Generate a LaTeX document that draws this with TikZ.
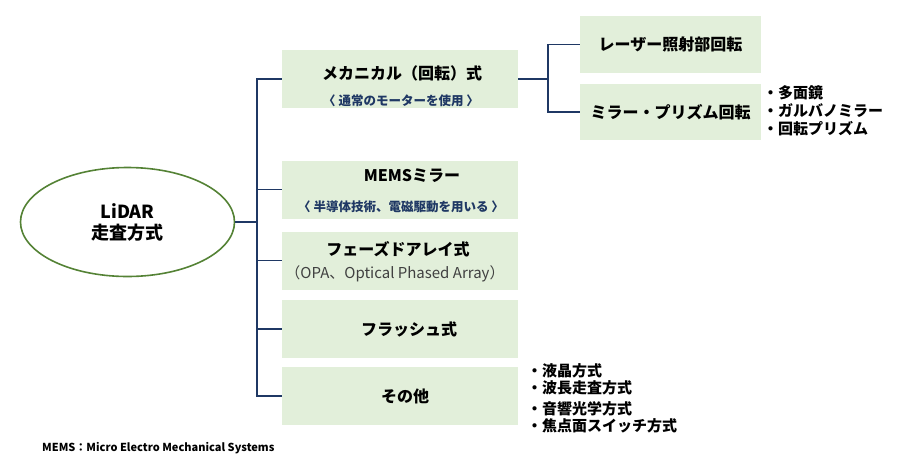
\documentclass[tikz,border=0pt]{standalone}
\usepackage{fontspec}
\setmainfont{Noto Sans CJK JP}
\usetikzlibrary{shapes.geometric}
\definecolor{BoxFill}{HTML}{E2EFDA}
\definecolor{LineNavy}{HTML}{1F3864}
\definecolor{RingGreen}{HTML}{548235}
\definecolor{NoteGray}{HTML}{404040}

\tikzset{
  catbox/.style={fill=BoxFill,minimum width=236pt,minimum height=58pt,inner sep=0pt},
  subbox/.style={fill=BoxFill,minimum width=181pt,inner sep=0pt},
  titletext/.style={inner sep=0pt,font=\fontsize{16}{18}\selectfont\bfseries},
  subtext/.style={inner sep=0pt,text=LineNavy,font=\fontsize{12.5}{14}\selectfont\bfseries},
  bullettext/.style={anchor=west,inner sep=0pt,font=\fontsize{15}{17}\selectfont\bfseries},
  link/.style={draw=LineNavy,line width=1.3pt}
}

\begin{document}
\begin{tikzpicture}[x=1pt,y=-1pt]
  \useasboundingbox (0,0) rectangle (906,472);

  % root
  \node[draw=RingGreen,line width=1.6pt,ellipse,minimum width=214pt,minimum height=109pt,
        align=center,font=\fontsize{18}{21}\selectfont\bfseries] (lidar) at (127.5,222) {LiDAR\\走査方式};

  % categories
  \foreach \n/\yc/\xt/\yt/\title in {mech/79/402/73/メカニカル（回転）式,mems/189.5/412/176/MEMSミラー,
      opa/260.5/398/249/フェーズドアレイ式,flash/329/409/329/フラッシュ式,other/396/405/396/その他}{
    \node[catbox] (\n) at (400,\yc) {};
    \node[titletext] (\n-t) at (\xt,\yt) {\title};
  }
  \node[subtext] (mech-s) at (401,101) {〈 通常のモーターを使用 〉};
  \node[subtext] (mems-s) at (401,207) {〈 半導体技術、電磁駆動を用いる 〉};
  \node[inner sep=0pt,text=NoteGray,font=\fontsize{15}{17}\selectfont] (opa-s) at (395,274)
    {（OPA、Optical Phased Array）};

  % mechanical sub types
  \node[subbox,minimum height=57pt] (laser) at (670.5,44.5) {};
  \node[titletext] (laser-t) at (laser) {レーザー照射部回転};
  \node[subbox,minimum height=56pt] (mirror) at (670.5,112) {};
  \node[titletext] (mirror-t) at (mirror) {ミラー・プリズム回転};

  % bullet lists
  \foreach \i/\y/\txt in {1/93/多面鏡,2/111/ガルバノミラー,3/129/回転プリズム}{
    \node[bullettext] (mb\i) at (763,\y) {・\txt};
  }
  \foreach \i/\y/\txt in {1/371/液晶方式,2/388/波長走査方式,3/409/音響光学方式,4/426/焦点面スイッチ方式}{
    \node[bullettext] (ob\i) at (527,\y) {・\txt};
  }

  % connectors
  \coordinate (trunk) at (257,222);
  \coordinate (split) at (548,79);
  \draw[link] (lidar.east) -- (trunk);
  \draw[link] (mech.west) -| (trunk) |- (other.west);
  \foreach \n in {mems,opa,flash}{
    \draw[link] (trunk |- \n.west) -- (\n.west);
  }
  \draw[link] (mech.east) -- (split);
  \draw[link] (laser.west) -| (split) |- (mirror.west);

  % note
  \node[anchor=west,inner sep=0pt,font=\fontsize{11}{13}\selectfont\bfseries] (note) at (42,448)
    {MEMS：Micro Electro Mechanical Systems};
\end{tikzpicture}
\end{document}
